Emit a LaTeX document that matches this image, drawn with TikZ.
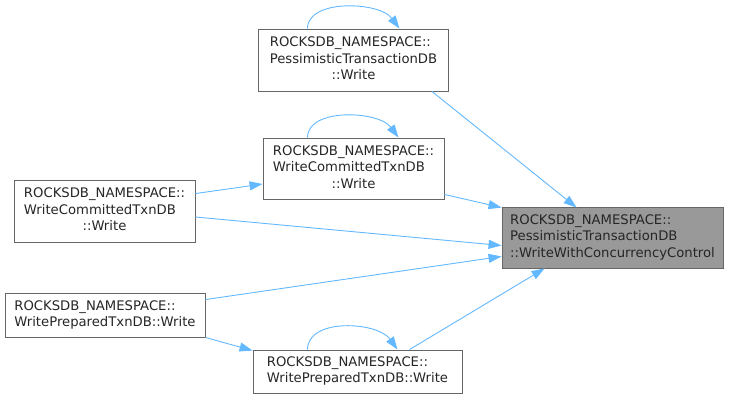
\documentclass[tikz,border=0pt]{standalone}
\usepackage{fontspec}
\setmainfont{DejaVu Sans}
\usetikzlibrary{arrows.meta}
\definecolor{edgeblue}{HTML}{63B8FF}
\definecolor{boxline}{HTML}{666666}
\definecolor{boxfill}{HTML}{999999}
\newcommand{\dxlbl}[1]{\begin{tabular}{@{}l@{}}#1\end{tabular}}
\newcommand{\dxlast}[1]{\multicolumn{1}{@{}c@{}}{#1}}
\begin{document}
\begin{tikzpicture}[x=1pt,y=-1pt,
  fn/.style={draw=boxline,fill=white,line width=0.9pt,inner sep=0pt,
    font=\fontsize{13.2}{16.3}\selectfont,text=black!85},
  cur/.style={fn,fill=boxfill},
  call/.style={draw=edgeblue,line width=0.9pt,-{Triangle[length=13pt,width=9pt]}}]
\useasboundingbox (0,0) rectangle (730,400);
\node[fn,minimum width=190pt,minimum height=62pt] (A) at (353.5,60)
  {\dxlbl{ROCKSDB\_NAMESPACE::\\PessimisticTransactionDB\\\dxlast{::Write}}};
\node[fn,minimum width=181pt,minimum height=61pt] (B) at (353.5,168.5)
  {\dxlbl{ROCKSDB\_NAMESPACE::\\WriteCommittedTxnDB\\\dxlast{::Write}}};
\node[cur,minimum width=221pt,minimum height=61pt] (T) at (612.5,237.5)
  {\dxlbl{ROCKSDB\_NAMESPACE::\\PessimisticTransactionDB\\\dxlast{::WriteWithConcurrencyControl}}};
\node[fn,minimum width=181pt,minimum height=62pt] (C) at (104.5,211)
  {\dxlbl{ROCKSDB\_NAMESPACE::\\WriteCommittedTxnDB\\\dxlast{::Write}}};
\node[fn,minimum width=200pt,minimum height=44pt] (D) at (105,315)
  {\dxlbl{ROCKSDB\_NAMESPACE::\\\dxlast{WritePreparedTxnDB::Write}}};
\node[fn,minimum width=209pt,minimum height=43pt] (E) at (357.5,371.5)
  {\dxlbl{ROCKSDB\_NAMESPACE::\\\dxlast{WritePreparedTxnDB::Write}}};
% self loops
\draw[call] ([xshift=-46pt]A.north) .. controls +(0,-30) and +(-20,-27) .. ([xshift=46pt]A.north);
\draw[call] ([xshift=-46pt]B.north) .. controls +(0,-30) and +(-20,-27) .. ([xshift=45pt]B.north);
\draw[call] ([xshift=-50pt]E.north) .. controls +(0,-32) and +(-20,-28) .. ([xshift=40pt]E.north);
% calls
\draw[call] ([xshift=-17pt]A.south east) -- ([xshift=75pt,yshift=-1pt]T.north west);
\draw[call] ([yshift=5pt]B.south east) -- ([yshift=-1pt]T.north west);
\draw[call] ([yshift=-6pt]C.east) -- ([yshift=-8pt]T.west);
\draw[call] ([yshift=-7pt]D.north east) -- ([yshift=12pt]T.south west);
\draw[call] ([xshift=52pt]E.north) -- ([xshift=43pt]T.south west);
\draw[call] ([yshift=-14pt]C.north east) -- ([yshift=-15.5pt]B.west);
\draw[call] (D.south east) -- ([yshift=-1pt]E.north west);
\end{tikzpicture}
\end{document}
